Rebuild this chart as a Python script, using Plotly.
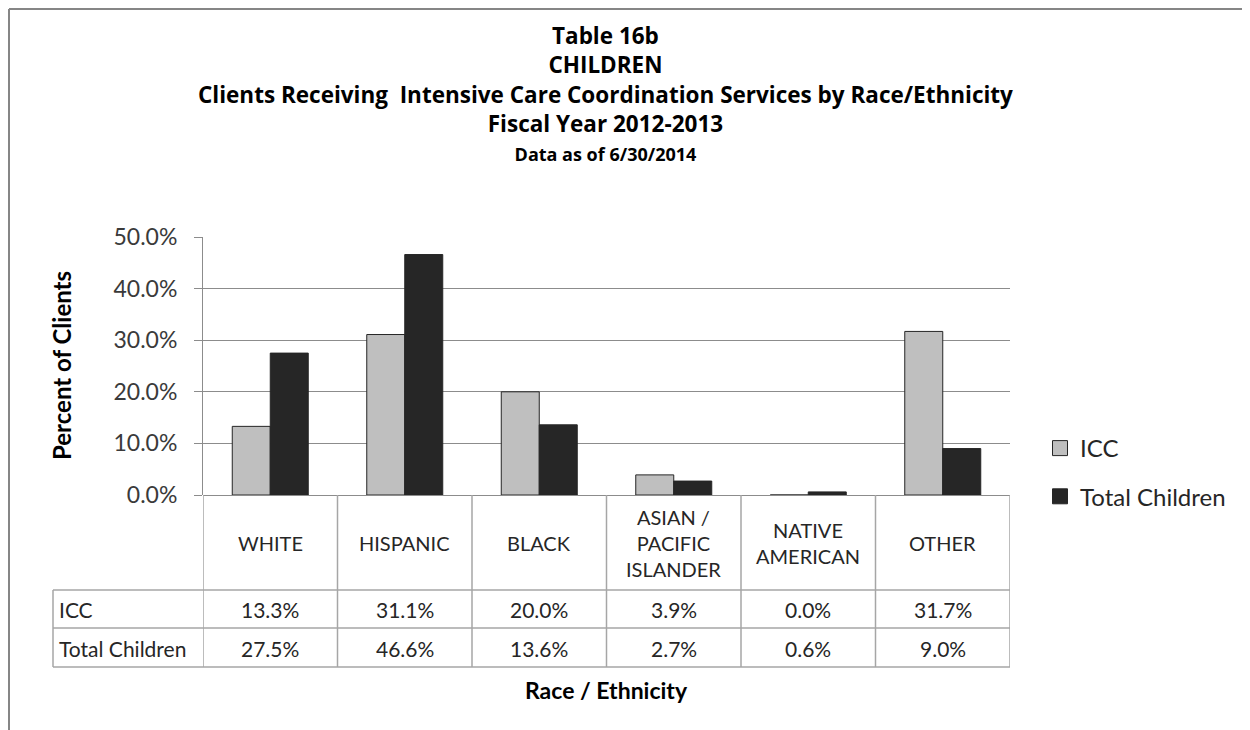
import plotly.graph_objects as go

categories = ["WHITE", "HISPANIC", "BLACK", "ASIAN / PACIFIC ISLANDER", "NATIVE AMERICAN", "OTHER"]
header_labels = ["WHITE", "HISPANIC", "BLACK", "ASIAN /<br>PACIFIC<br>ISLANDER", "NATIVE<br>AMERICAN", "OTHER"]
icc = [13.3, 31.1, 20.0, 3.9, 0.0, 31.7]
total_children = [27.5, 46.6, 13.6, 2.7, 0.6, 9.0]
series_names = ["ICC", "Total Children"]
series_colors = ["#bfbfbf", "#262626"]
y_ticks = [0, 10, 20, 30, 40, 50]
y_tick_labels = ["0.0%", "10.0%", "20.0%", "30.0%", "40.0%", "50.0%"]
title_lines = [
    "Table 16b",
    "CHILDREN",
    "Clients Receiving  Intensive Care Coordination Services by Race/Ethnicity",
    "Fiscal Year 2012-2013",
]
subtitle = "Data as of 6/30/2014"

FONT = "Lato"
TITLE_FONT = "Open Sans"
TXT = "#262626"
GRID = "#8c8c8c"
TBL = "#a6a6a6"

OFF = 8  # default page body margin
W, H = 1250 - OFF, 730 - OFF
L = 203 - OFF
T = 237 - OFF
PLOT_BOTTOM = 495 - OFF
PLOT_RIGHT = 1010 - OFF
B = H - PLOT_BOTTOM
R = W - PLOT_RIGHT
PW = PLOT_RIGHT - L
PH = PLOT_BOTTOM - T


def px_x(p):
    return (p - OFF - L) / PW


def px_y(p):
    return (PLOT_BOTTOM - (p - OFF)) / PH


fig = go.Figure()
xs = list(range(len(categories)))
for name, vals, col in [(series_names[0], icc, series_colors[0]),
                        (series_names[1], total_children, series_colors[1])]:
    fig.add_trace(go.Bar(x=xs, y=vals, name=name, showlegend=False,
                         marker=dict(color=col, line=dict(color="#262626", width=1))))
for name, col, grp in [(series_names[0], series_colors[0], "a"),
                       (series_names[1], series_colors[1], "b")]:
    fig.add_trace(go.Scatter(x=[None], y=[None], mode="markers", name=name, legendgroup=grp,
                             marker=dict(symbol="square", size=15, color=col,
                                         line=dict(color="#262626", width=1))))

shapes = []
for i in range(len(categories) + 1):
    shapes.append(dict(type="line", xref="x", yref="paper", x0=i - 0.5, x1=i - 0.5,
                       y0=0, y1=px_y(667), line=dict(color=TBL, width=1.5)))
shapes.append(dict(type="line", xref="paper", yref="paper", x0=px_x(53), x1=px_x(53),
                   y0=px_y(590), y1=px_y(667), line=dict(color=TBL, width=1.5)))
for yp in [590, 628, 667]:
    shapes.append(dict(type="line", xref="paper", yref="paper", x0=px_x(53), x1=1,
                       y0=px_y(yp), y1=px_y(yp), line=dict(color=TBL, width=1.5)))
# outer chart border (top and left)
shapes.append(dict(type="line", xref="paper", yref="paper", x0=px_x(9), x1=px_x(1260),
                   y0=px_y(9), y1=px_y(9), line=dict(color="#868686", width=2)))
shapes.append(dict(type="line", xref="paper", yref="paper", x0=px_x(9), x1=px_x(9),
                   y0=px_y(9), y1=px_y(740), line=dict(color="#868686", width=2)))

annotations = []
title_text = "<br>".join("<b>" + t + "</b>" for t in title_lines)
title_text += "<br><b><span style='font-size:18px'>" + subtitle + "</span></b>"
annotations.append(dict(text=title_text, xref="paper", yref="paper",
                        x=px_x(605), y=px_y(93), showarrow=False,
                        xanchor="center", yanchor="middle", align="center",
                        font=dict(family=TITLE_FONT, size=22.5, color="#000000")))
for i, lab in enumerate(header_labels):
    annotations.append(dict(text=lab, xref="x", yref="paper", x=i, y=px_y(543),
                            showarrow=False, xanchor="center", yanchor="middle",
                            font=dict(family=FONT, size=20, color=TXT)))
for row_name, vals, yp in [(series_names[0], icc, 609), (series_names[1], total_children, 648)]:
    annotations.append(dict(text=row_name, xref="paper", yref="paper", x=px_x(57), y=px_y(yp),
                            showarrow=False, xanchor="left", yanchor="middle",
                            font=dict(family=FONT, size=21, color=TXT)))
    for i, v in enumerate(vals):
        annotations.append(dict(text=f"{v:.1f}%", xref="x", yref="paper", x=i, y=px_y(yp),
                                showarrow=False, xanchor="center", yanchor="middle",
                                font=dict(family=FONT, size=21, color=TXT)))
annotations.append(dict(text="<b>Race / Ethnicity</b>", xref="paper", yref="paper",
                        x=px_x(606), y=px_y(690), showarrow=False, xanchor="center",
                        yanchor="middle", font=dict(family=FONT, size=23, color="#000000")))
annotations.append(dict(text="<b>Percent of Clients</b>", xref="paper", yref="paper",
                        x=px_x(61), y=0.5, showarrow=False, textangle=-90,
                        xanchor="center", yanchor="middle",
                        font=dict(family=FONT, size=24, color="#000000")))

fig.update_layout(
    width=W, height=H,
    margin=dict(l=L, r=R, t=T, b=B, pad=0),
    paper_bgcolor="white", plot_bgcolor="white",
    barmode="group", bargap=0.435, bargroupgap=0,
    showlegend=True,
    legend=dict(x=px_x(1040), y=px_y(426), xanchor="left", yanchor="top",
                font=dict(family=FONT, size=24, color=TXT),
                traceorder="grouped", tracegroupgap=14, itemwidth=30,
                bgcolor="rgba(0,0,0,0)"),
    shapes=shapes,
    annotations=annotations,
    font=dict(family=FONT, color=TXT),
)
fig.update_xaxes(range=[-0.5, len(categories) - 0.5], showticklabels=False, showgrid=False,
                 zeroline=False, showline=False, ticks="")
fig.update_yaxes(range=[0, 50], tickvals=y_ticks, ticktext=y_tick_labels,
                 showgrid=True, gridcolor=GRID, gridwidth=1,
                 zeroline=True, zerolinecolor=GRID, zerolinewidth=1,
                 showline=True, linecolor=GRID, linewidth=1,
                 ticks="outside", ticklen=8, tickcolor=GRID,
                 ticklabelstandoff=12,
                 tickfont=dict(family=FONT, size=23, color="#3a3a3a"))

fig.write_html("out.html")
